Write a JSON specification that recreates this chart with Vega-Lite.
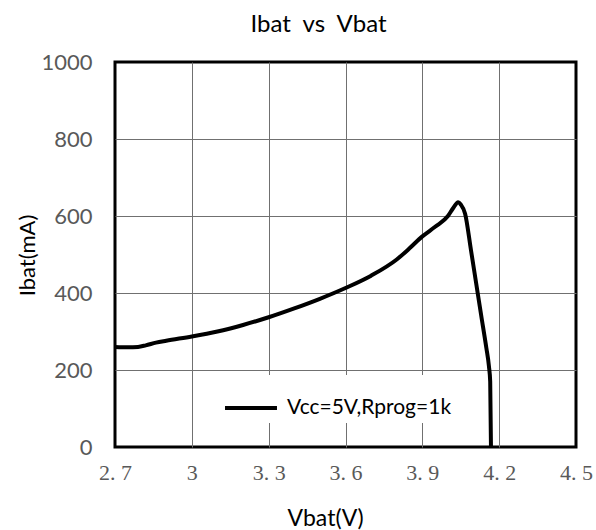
{
  "$schema": "https://vega.github.io/schema/vega-lite/v6.json",
  "width": 461,
  "height": 385,
  "autosize": "none",
  "padding": {"left": 115, "top": 62, "right": 20, "bottom": 83},
  "background": "white",
  "title": {
    "text": "Ibat\u00a0\u00a0vs\u00a0\u00a0Vbat",
    "font": "Lato",
    "fontSize": 24,
    "fontWeight": "normal",
    "color": "black",
    "anchor": "middle",
    "dx": -27,
    "offset": 14
  },
  "config": {
    "view": {"stroke": "black", "strokeWidth": 3},
    "axis": {"domain": false, "ticks": false, "grid": true, "gridColor": "#707070", "gridWidth": 1}
  },
  "data": {
    "values": [
      {"v": 2.70, "i": 260, "s": "Vcc=5V,Rprog=1k", "k": 1},
      {"v": 2.75, "i": 259, "s": "Vcc=5V,Rprog=1k", "k": 2},
      {"v": 2.79, "i": 260, "s": "Vcc=5V,Rprog=1k", "k": 3},
      {"v": 2.82, "i": 264, "s": "Vcc=5V,Rprog=1k", "k": 4},
      {"v": 2.86, "i": 271, "s": "Vcc=5V,Rprog=1k", "k": 5},
      {"v": 2.90, "i": 276, "s": "Vcc=5V,Rprog=1k", "k": 6},
      {"v": 3.00, "i": 287, "s": "Vcc=5V,Rprog=1k", "k": 7},
      {"v": 3.10, "i": 300, "s": "Vcc=5V,Rprog=1k", "k": 8},
      {"v": 3.20, "i": 317, "s": "Vcc=5V,Rprog=1k", "k": 9},
      {"v": 3.30, "i": 337, "s": "Vcc=5V,Rprog=1k", "k": 10},
      {"v": 3.40, "i": 360, "s": "Vcc=5V,Rprog=1k", "k": 11},
      {"v": 3.50, "i": 385, "s": "Vcc=5V,Rprog=1k", "k": 12},
      {"v": 3.60, "i": 413, "s": "Vcc=5V,Rprog=1k", "k": 13},
      {"v": 3.70, "i": 445, "s": "Vcc=5V,Rprog=1k", "k": 14},
      {"v": 3.80, "i": 487, "s": "Vcc=5V,Rprog=1k", "k": 15},
      {"v": 3.85, "i": 516, "s": "Vcc=5V,Rprog=1k", "k": 16},
      {"v": 3.90, "i": 547, "s": "Vcc=5V,Rprog=1k", "k": 17},
      {"v": 3.95, "i": 572, "s": "Vcc=5V,Rprog=1k", "k": 18},
      {"v": 4.00, "i": 600, "s": "Vcc=5V,Rprog=1k", "k": 19},
      {"v": 4.02, "i": 620, "s": "Vcc=5V,Rprog=1k", "k": 20},
      {"v": 4.04, "i": 636, "s": "Vcc=5V,Rprog=1k", "k": 21},
      {"v": 4.05, "i": 630, "s": "Vcc=5V,Rprog=1k", "k": 22},
      {"v": 4.067, "i": 606, "s": "Vcc=5V,Rprog=1k", "k": 23},
      {"v": 4.09, "i": 511, "s": "Vcc=5V,Rprog=1k", "k": 24},
      {"v": 4.11, "i": 426, "s": "Vcc=5V,Rprog=1k", "k": 25},
      {"v": 4.13, "i": 341, "s": "Vcc=5V,Rprog=1k", "k": 26},
      {"v": 4.15, "i": 257, "s": "Vcc=5V,Rprog=1k", "k": 27},
      {"v": 4.16, "i": 210, "s": "Vcc=5V,Rprog=1k", "k": 28},
      {"v": 4.165, "i": 170, "s": "Vcc=5V,Rprog=1k", "k": 29},
      {"v": 4.168, "i": 0, "s": "Vcc=5V,Rprog=1k", "k": 30}
    ]
  },
  "mark": {"type": "line", "strokeWidth": 4, "interpolate": "monotone", "clip": true},
  "encoding": {
    "x": {
      "field": "v",
      "type": "quantitative",
      "scale": {"domain": [2.7, 4.5], "nice": false, "zero": false},
      "axis": {
        "values": [2.7, 3.0, 3.3, 3.6, 3.9, 4.2, 4.5],
        "labelExpr": "replace(format(datum.value, '.1~f'), '.', '. ')",
        "labelFont": "Liberation Serif",
        "labelFontSize": 22,
        "labelColor": "#595959",
        "labelPadding": 15,
        "labelFlush": false,
        "labelOverlap": false,
        "labelBound": false,
        "gridOpacity": {"condition": {"test": "datum.value < 2.75 || datum.value > 4.45", "value": 0}, "value": 1},
        "title": "Vbat(V)",
        "titleFont": "Lato",
        "titleFontSize": 23,
        "titleFontWeight": "normal",
        "titleColor": "black",
        "titleX": 210,
        "titleY": 78,
        "titleBaseline": "alphabetic"
      }
    },
    "y": {
      "field": "i",
      "type": "quantitative",
      "scale": {"domain": [0, 1000], "nice": false},
      "axis": {
        "values": [0, 200, 400, 600, 800, 1000],
        "format": "d",
        "labelFont": "Lato",
        "labelFontSize": 22,
        "labelColor": "#595959",
        "labelPadding": 23,
        "labelFlush": false,
        "labelOverlap": false,
        "labelBound": false,
        "gridOpacity": {"condition": {"test": "datum.value < 10 || datum.value > 990", "value": 0}, "value": 1},
        "title": "Ibat(mA)",
        "titleFont": "Lato",
        "titleFontSize": 22,
        "titleFontWeight": "normal",
        "titleColor": "black",
        "titleX": -81,
        "titleY": 193,
        "titleAngle": -90,
        "titleAlign": "center",
        "titleBaseline": "alphabetic"
      }
    },
    "order": {"field": "k", "type": "quantitative"},
    "color": {
      "field": "s",
      "type": "nominal",
      "scale": {"range": ["black"]},
      "legend": {
        "title": null,
        "orient": "none",
        "legendX": 103,
        "legendY": 313,
        "fillColor": "white",
        "padding": 5,
        "symbolType": "stroke",
        "symbolSize": 2700,
        "symbolStrokeWidth": 4,
        "labelFont": "Lato",
        "labelFontSize": 21,
        "labelColor": "black",
        "labelOffset": 8,
        "labelLimit": 400
      }
    }
  }
}
